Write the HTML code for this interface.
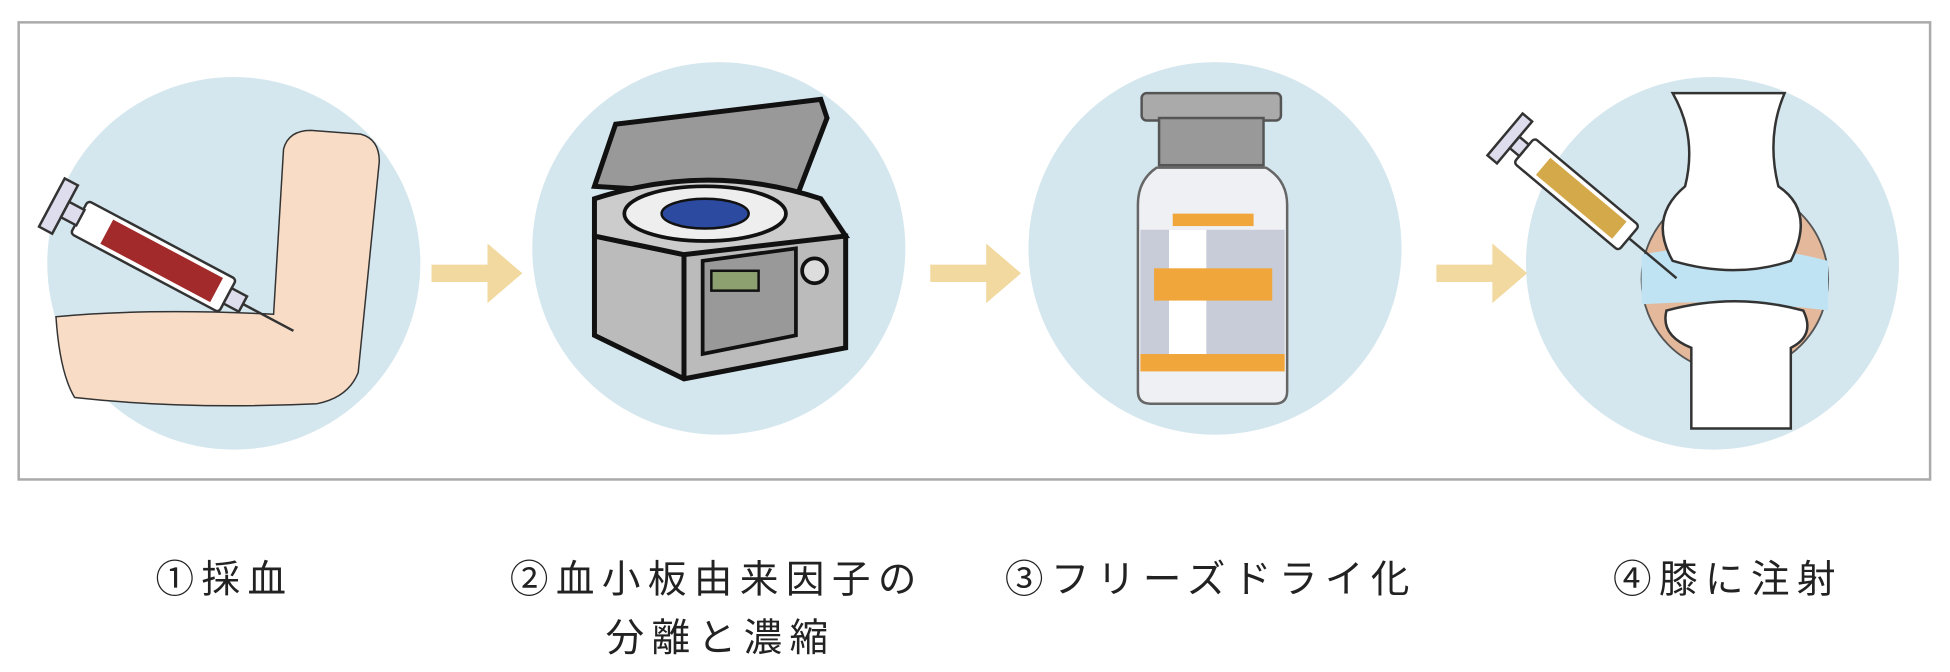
<!DOCTYPE html>
<html><head><meta charset="utf-8"><style>
html,body{margin:0;padding:0;background:#fff;}
svg{display:block;}
text{font-family:"Liberation Sans","Noto Sans CJK JP",sans-serif;fill:#222;}
</style></head><body>
<svg width="1950" height="672" viewBox="0 0 1568 541" preserveAspectRatio="none" xmlns="http://www.w3.org/2000/svg">
<rect x="15" y="18" width="1537" height="368" fill="#fff" stroke="#aaa" stroke-width="2"/>
<circle cx="188" cy="212" r="150" fill="#d5e7ee"/>
<circle cx="578" cy="200" r="150" fill="#d5e7ee"/>
<circle cx="977" cy="200" r="150" fill="#d5e7ee"/>
<circle cx="1377" cy="212" r="150" fill="#d5e7ee"/>
<g fill="#f2d9a0">
<path d="M347 213 H392 V196 L420 220 L392 244 V227 H347 Z"/>
<path d="M748 213 H793 V196 L821 220 L793 244 V227 H748 Z"/>
<path d="M1155 213 H1200 V196 L1228 220 L1200 244 V227 H1155 Z"/>
</g>
<path d="M45 255 Q120 248 220 253 L228 120 Q232 105 250 105 L290 108 Q305 112 305 130 L288 300 Q280 320 255 325 Q150 330 60 320 Q48 300 45 255 Z" fill="#f8dcc6" stroke="#333" stroke-width="1.2"/>
<g transform="rotate(28 130 210)">
<rect x="55" y="195" width="135" height="30" fill="#fff" stroke="#333" stroke-width="2" rx="3"/>
<rect x="80" y="199" width="100" height="22" fill="#a22a2a"/>
<rect x="30" y="188" width="12" height="44" fill="#dde" stroke="#333" stroke-width="2"/>
<rect x="42" y="203" width="14" height="14" fill="#dde" stroke="#333" stroke-width="2"/>
<rect x="190" y="203" width="14" height="14" fill="#dde" stroke="#333" stroke-width="2"/>
<line x1="204" y1="210" x2="250" y2="210" stroke="#333" stroke-width="2"/>
</g>
<path d="M478 150 L495 100 L660 80 L665 95 L640 160 Z" fill="#999" stroke="#111" stroke-width="4"/>
<path d="M478 190 L478 270 L550 305 L680 280 L680 190 Z" fill="#bbb" stroke="#111" stroke-width="4"/>
<path d="M478 190 L550 205 L550 305" fill="none" stroke="#111" stroke-width="4"/>
<path d="M478 160 Q570 130 660 160 L680 190 L550 205 L478 190 Z" fill="#ccc" stroke="#111" stroke-width="4"/>
<ellipse cx="567" cy="172" rx="65" ry="22" fill="#eee" stroke="#111" stroke-width="3"/>
<ellipse cx="567" cy="172" rx="35" ry="12" fill="#2c4aa0" stroke="#111" stroke-width="2"/>
<path d="M565 210 L640 200 L640 270 L565 285 Z" fill="#999" stroke="#111" stroke-width="3"/>
<rect x="572" y="218" width="38" height="16" fill="#8ca070" stroke="#111" stroke-width="2"/>
<circle cx="655" cy="218" r="10" fill="#ddd" stroke="#111" stroke-width="3"/>
<rect x="918" y="75" width="112" height="22" rx="4" fill="#aaa" stroke="#555" stroke-width="2"/>
<rect x="932" y="95" width="84" height="38" fill="#999" stroke="#555" stroke-width="2"/>
<path d="M930 135 Q915 145 915 165 V315 Q915 325 925 325 H1025 Q1035 325 1035 315 V165 Q1035 145 1018 135 Z" fill="#eef0f3" stroke="#666" stroke-width="2"/>
<rect x="917" y="185" width="116" height="100" fill="#c8ccd8"/>
<rect x="940" y="185" width="30" height="100" fill="#fff"/>
<rect x="943" y="172" width="65" height="10" fill="#f0a63a"/>
<rect x="928" y="216" width="95" height="26" fill="#f0a63a"/>
<rect x="917" y="285" width="116" height="14" fill="#f0a63a"/>
<circle cx="1395" cy="225" r="75" fill="#e4b89a" stroke="#555" stroke-width="1.5"/>
<path d="M1320 205 Q1395 190 1470 210 L1470 250 Q1395 240 1320 245 Z" fill="#bfe3f2"/>
<path d="M1345 75 H1435 Q1420 110 1430 150 Q1460 170 1440 210 Q1395 225 1345 210 Q1325 175 1355 150 Q1365 110 1345 75 Z" fill="#fff" stroke="#333" stroke-width="2"/>
<path d="M1340 250 Q1395 235 1450 250 Q1460 270 1440 280 V345 H1360 V280 Q1335 270 1340 250 Z" fill="#fff" stroke="#333" stroke-width="2"/>
<g transform="rotate(40 1260 150)">
<rect x="1215" y="137" width="110" height="26" fill="#fff" stroke="#333" stroke-width="2" rx="3"/>
<rect x="1235" y="141" width="80" height="18" fill="#d4a94a"/>
<rect x="1195" y="128" width="10" height="44" fill="#dde" stroke="#333" stroke-width="2"/>
<rect x="1205" y="144" width="10" height="12" fill="#dde" stroke="#333" stroke-width="2"/>
<line x1="1325" y1="150" x2="1375" y2="150" stroke="#333" stroke-width="2"/>
</g>
<g font-size="31" letter-spacing="6">
<text x="125" y="477">①採血</text>
<text x="410" y="477">②血小板由来因子の</text>
<text x="487" y="524">分離と濃縮</text>
<text x="808" y="477">③フリーズドライ化</text>
<text x="1297" y="477">④膝に注射</text>
</g>
</svg>
</body></html>
